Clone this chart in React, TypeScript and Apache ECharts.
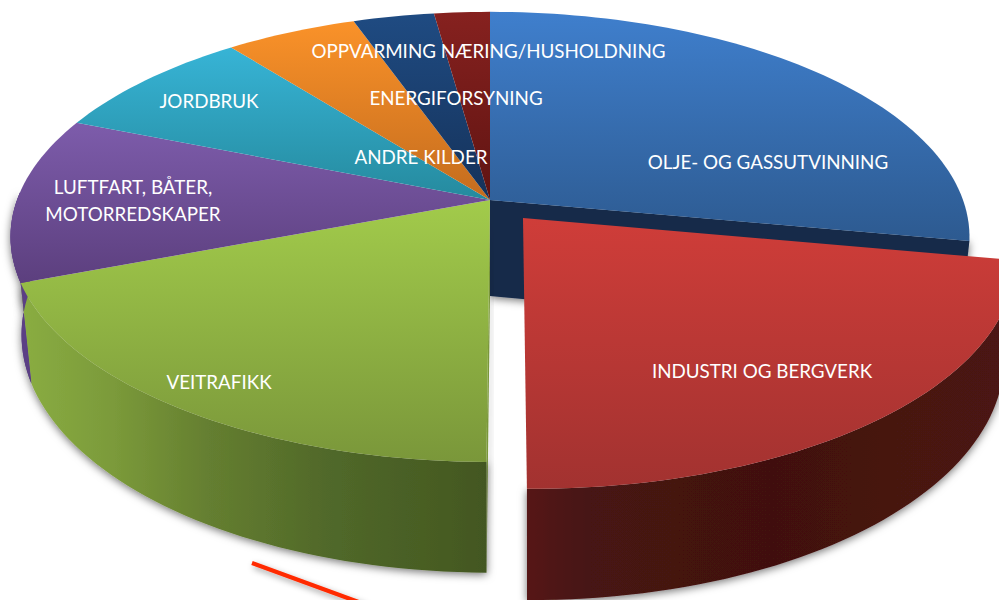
import React, { useEffect, useRef } from "react";
import * as echarts from "echarts";

const categories = [
  "OLJE- OG GASSUTVINNING",
  "INDUSTRI OG BERGVERK",
  "VEITRAFIKK",
  "LUFTFART, BÅTER,\nMOTORREDSKAPER",
  "JORDBRUK",
  "ANDRE KILDER",
  "ENERGIFORSYNING",
  "OPPVARMING NÆRING/HUSHOLDNING",
];
const values = [27.9, 22.2, 19.1, 11.9, 8.3, 5.2, 3.2, 2.2];

const topColors = [
  ["#3f7fcd", "#2d5a90"],
  ["#cf3d39", "#a23230"],
  ["#a2cb4b", "#7a973a"],
  ["#7d5cab", "#5c3f7e"],
  ["#37b4d6", "#258a9e"],
  ["#fa9229", "#c46c1e"],
  ["#1f4b82", "#15325a"],
  ["#86211f", "#601412"],
];
const labelCenters = [
  [768, 161],
  [762, 370],
  [219, 381],
  [133, 200],
  [209, 100],
  [421, 156],
  [456, 97],
  [488.5, 50],
];

const CX = 490, CY = 200, RX = 473, RY = 219, P = 0.164;
const BOT_SX = 0.977, BOT_SY = 1.056, BOT_DY = 96;
const EXPLODED = 1, EX_X = 523, EX_Y = 218, EX_SCALE_X = 1.025, EX_SCALE_Y = 1.034, EX_SHEAR = 0.028;

const total = values.reduce((a, b) => a + b, 0);
const starts = values.map((_, i) => (values.slice(0, i).reduce((a, b) => a + b, 0) / total) * 360);

function flat(deg: number) {
  const a = (deg * Math.PI) / 180;
  const u = Math.sin(a), v = -Math.cos(a);
  const s = 1 / (1 - P * v);
  return [RX * u * s, RY * v * s];
}
function pt(i: number, deg: number | null, bottom: boolean) {
  const [X0, Y0] = deg === null ? [0, 0] : flat(deg);
  const ex = i === EXPLODED;
  const X = X0 * (ex ? EX_SCALE_X : 1), Y = Y0 * (ex ? EX_SCALE_Y : 1);
  const ox = ex ? EX_X : CX, oy = ex ? EX_Y : CY;
  const sh = ex ? EX_SHEAR * Y : 0;
  return bottom
    ? [ox + X * BOT_SX + sh, oy + BOT_DY + Y * BOT_SY]
    : [ox + X + sh, oy + Y];
}
function arc(i: number, a0: number, a1: number, bottom: boolean) {
  const out: number[][] = [];
  const n = Math.max(4, Math.ceil(Math.abs(a1 - a0) / 1.5));
  for (let k = 0; k <= n; k++) out.push(pt(i, a0 + ((a1 - a0) * k) / n, bottom));
  return out;
}
const shadow = { shadowBlur: 9, shadowColor: "rgba(0,0,0,0.55)", shadowOffsetX: 0, shadowOffsetY: 2 };
const vgrad = (c: string[]) =>
  new echarts.graphic.LinearGradient(0, 0, 0, 1, [
    { offset: 0, color: c[0] },
    { offset: 1, color: c[1] },
  ]);
const hgrad = (stops: [number, string][]) =>
  new echarts.graphic.LinearGradient(0, 0, 1, 0, stops.map(([offset, color]) => ({ offset, color })));

function renderSlice(params: any, api: any) {
  const i = params.dataIndex;
  const a0 = starts[i];
  const a1 = a0 + (api.value(0) / total) * 360;
  const apex = pt(i, null, false);
  const apexB = pt(i, null, true);
  const children: any[] = [];
  const poly = (points: number[][], style: any, z2: number) =>
    children.push({ type: "polygon", shape: { points }, style, z2, silent: true });

  if (i === 0) {
    poly([apex, pt(i, a1, false), pt(i, a1, true), apexB], { fill: "#13294a", ...shadow }, 1);
  }
  if (i === 3) {
    const outline = [...arc(i, a0, 272, false), ...arc(i, 272, a0, true)];
    poly(outline, { fill: "#5b3f85", ...shadow }, 1);
    poly(outline, { fill: "#5b3f85" }, 4);
  }
  if (i === 2) {
    poly([apex, pt(i, a0, false), pt(i, a0, true), apexB], { fill: "#7a973a", ...shadow }, 2);
    poly(
      [...arc(i, a0, a1, false), ...arc(i, a1, a0, true)],
      {
        fill: hgrad([
          [0, "#8aad42"],
          [0.2, "#7b9a3a"],
          [0.4, "#657f30"],
          [0.65, "#51692a"],
          [1, "#435720"],
        ]),
        ...shadow,
      },
      3
    );
  }
  if (i === EXPLODED) {
    poly(
      [...arc(i, a0, a1, false), ...arc(i, a1, a0, true)],
      {
        fill: hgrad([
          [0, "#561715"],
          [0.12, "#471312"],
          [0.5, "#411110"],
          [1, "#4c1412"],
        ]),
        ...shadow,
      },
      8
    );
  }
  poly([apex, ...arc(i, a0, a1, false)], { fill: vgrad(topColors[i]) }, i === EXPLODED ? 9 : 5);
  return { type: "group", children };
}

function renderLabel(params: any) {
  const i = params.dataIndex;
  const [x, y] = labelCenters[i];
  return {
    type: "text",
    silent: true,
    style: {
      text: categories[i],
      x,
      y,
      fill: "#ffffff",
      align: "center",
      verticalAlign: "middle",
      fontFamily: "Lato",
      fontSize: 18.8,
      lineHeight: 27,
    },
  };
}

export default function App() {
  const ref = useRef<HTMLDivElement>(null);
  useEffect(() => {
    const chart = echarts.init(ref.current!, null, { renderer: "svg" });
    chart.setOption({
      animation: false,
      backgroundColor: "#ffffff",
      graphic: [
        {
          type: "line",
          shape: { x1: 252, y1: 563, x2: 364, y2: 604 },
          style: {
            stroke: "#ff2a00",
            lineWidth: 4,
            shadowBlur: 6,
            shadowColor: "rgba(0,0,0,0.4)",
            shadowOffsetX: 2,
            shadowOffsetY: 3,
          },
        },
      ],
      series: [
        {
          type: "custom",
          coordinateSystem: "none",
          renderItem: renderSlice,
          data: values.map((v, i) => ({ name: categories[i], value: [v] })),
          z: 2,
        },
        {
          type: "custom",
          coordinateSystem: "none",
          renderItem: renderLabel,
          data: values.map((v, i) => ({ name: categories[i], value: [v] })),
          z: 5,
        },
      ],
    });
    return () => chart.dispose();
  }, []);
  return <div ref={ref} style={{ position: "absolute", left: 0, top: 0, width: 999, height: 600 }} />;
}
